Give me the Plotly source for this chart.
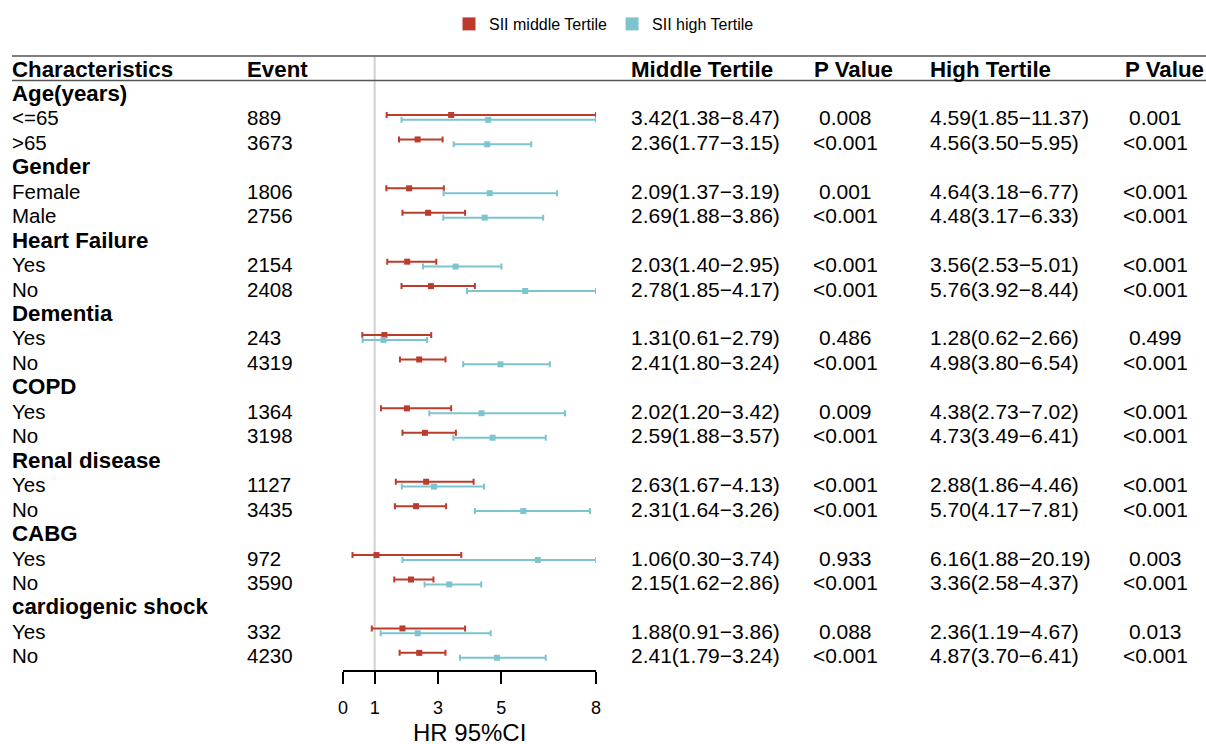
import plotly.graph_objects as go

# ---------------- data ----------------
groups = ["Age(years)", "Gender", "Heart Failure", "Dementia", "COPD",
          "Renal disease", "CABG", "cardiogenic shock"]
sub_labels = [["<=65", ">65"], ["Female", "Male"], ["Yes", "No"], ["Yes", "No"],
              ["Yes", "No"], ["Yes", "No"], ["Yes", "No"], ["Yes", "No"]]
events = [889, 3673, 1806, 2756, 2154, 2408, 243, 4319, 1364, 3198,
          1127, 3435, 972, 3590, 332, 4230]

mid_hr = [3.42, 2.36, 2.09, 2.69, 2.03, 2.78, 1.31, 2.41, 2.02, 2.59, 2.63, 2.31, 1.06, 2.15, 1.88, 2.41]
mid_lo = [1.38, 1.77, 1.37, 1.88, 1.40, 1.85, 0.61, 1.80, 1.20, 1.88, 1.67, 1.64, 0.30, 1.62, 0.91, 1.79]
mid_hi = [8.47, 3.15, 3.19, 3.86, 2.95, 4.17, 2.79, 3.24, 3.42, 3.57, 4.13, 3.26, 3.74, 2.86, 3.86, 3.24]
mid_p = ["0.008", "<0.001", "0.001", "<0.001", "<0.001", "<0.001", "0.486", "<0.001",
         "0.009", "<0.001", "<0.001", "<0.001", "0.933", "<0.001", "0.088", "<0.001"]

high_hr = [4.59, 4.56, 4.64, 4.48, 3.56, 5.76, 1.28, 4.98, 4.38, 4.73, 2.88, 5.70, 6.16, 3.36, 2.36, 4.87]
high_lo = [1.85, 3.50, 3.18, 3.17, 2.53, 3.92, 0.62, 3.80, 2.73, 3.49, 1.86, 4.17, 1.88, 2.58, 1.19, 3.70]
high_hi = [11.37, 5.95, 6.77, 6.33, 5.01, 8.44, 2.66, 6.54, 7.02, 6.41, 4.46, 7.81, 20.19, 4.37, 4.67, 6.41]
high_p = ["0.001", "<0.001", "<0.001", "<0.001", "<0.001", "<0.001", "0.499", "<0.001",
          "<0.001", "<0.001", "<0.001", "<0.001", "0.003", "<0.001", "0.013", "<0.001"]

headers = ["Characteristics", "Event", "Middle Tertile", "P Value", "High Tertile", "P Value"]
x_ticks = [0, 1, 3, 5, 8]
x_max = 8
x_title = "HR 95%CI"

RED = "#BD3B2D"
TEAL = "#7CC4CE"
FONT = "Liberation Sans, Arial, sans-serif"

W, H = 1206, 744
ROW0, ROWH = 69.0, 24.45       # pixel centre of header row, row pitch
AXIS_Y = 670.0
X0_PX, X8_PX = 343.0, 596.0


def prow(py):
    return (py - ROW0) / ROWH


# row indices
group_rows, item_rows = [], []
r = 1
for g, subs in zip(groups, sub_labels):
    group_rows.append(r)
    r += 1
    for s in subs:
        item_rows.append(r)
        r += 1

labels_flat = [s for subs in sub_labels for s in subs]

fig = go.Figure()

def fmt(hr, lo, hi):
    return f"{hr:.2f}({lo:.2f}\u2212{hi:.2f})"

# forest traces
for hr, lo, hi, col, off in [(mid_hr, mid_lo, mid_hi, RED, -0.12),
                             (high_hr, high_lo, high_hi, TEAL, 0.08)]:
    up = [min(h, x_max) - v for v, h in zip(hr, hi)]
    dn = [v - l for v, l in zip(hr, lo)]
    fig.add_trace(go.Scatter(
        x=hr, y=[rr + off for rr in item_rows], mode="markers",
        marker=dict(symbol="square", size=6, color=col),
        error_x=dict(type="data", symmetric=False, array=up, arrayminus=dn,
                     color=col, thickness=2, width=3),
        showlegend=False, cliponaxis=False, hoverinfo="skip"))

# legend entries
for name, col in [("SII middle Tertile", RED), ("SII high Tertile", TEAL)]:
    fig.add_trace(go.Scatter(x=[None], y=[None], mode="markers", name=name,
                             marker=dict(symbol="square", size=13, color=col)))

ann = []
def add_text(px, row, text, bold=False, anchor="left", size=20.5):
    ann.append(dict(x=px / W, xref="paper", y=row, yref="y", text=f"<b>{text}</b>" if bold else text,
                    showarrow=False, xanchor=anchor, yanchor="middle", borderpad=0,
                    font=dict(family=FONT, size=size, color="black")))

hdr_x = [11, 246, 630, 813, 929, 1124]
for hx, htxt in zip(hdr_x, headers):
    add_text(hx, 0, htxt, bold=True, size=22.3)

for g, gr in zip(groups, group_rows):
    add_text(11, gr, g, bold=True, size=22.3)

for i, rr in enumerate(item_rows):
    add_text(11, rr, labels_flat[i])
    add_text(246, rr, str(events[i]))
    add_text(630, rr, fmt(mid_hr[i], mid_lo[i], mid_hi[i]), size=21)
    add_text(845, rr, mid_p[i], anchor="center", size=21)
    add_text(929, rr, fmt(high_hr[i], high_lo[i], high_hi[i]), size=21)
    add_text(1155.5, rr, high_p[i], anchor="center", size=21)

# x-axis title, centred under the axis
ann.append(dict(x=(X0_PX + X8_PX) / 2 / W, xref="paper", y=(H - 732) / H, yref="paper",
                text=x_title, showarrow=False, xanchor="center", yanchor="middle", borderpad=0,
                font=dict(family=FONT, size=24, color="black")))

shapes = [
    dict(type="line", xref="paper", yref="y", x0=12 / W, x1=1.0, y0=prow(56), y1=prow(56),
         line=dict(color="#555555", width=1.6)),
    dict(type="line", xref="paper", yref="y", x0=12 / W, x1=1.0, y0=prow(80.5), y1=prow(80.5),
         line=dict(color="#555555", width=1.6)),
    dict(type="line", xref="x", yref="y", x0=1, x1=1, y0=prow(56), y1=prow(AXIS_Y),
         line=dict(color="#D0D0D0", width=2), layer="below"),
]

fig.update_layout(
    width=W, height=H, margin=dict(l=0, r=0, t=0, b=0, autoexpand=False),
    paper_bgcolor="white", plot_bgcolor="white",
    font=dict(family=FONT, color="black"),
    annotations=ann, shapes=shapes,
    showlegend=True,
    legend=dict(orientation="h", x=449 / W, xanchor="left", y=1 - 24 / H, yanchor="middle",
                font=dict(family=FONT, size=16, color="black"), bgcolor="rgba(0,0,0,0)",
                itemclick=False),
    xaxis=dict(domain=[X0_PX / W, X8_PX / W], range=[0, x_max], tickvals=x_ticks,
               ticks="outside", ticklen=12, tickwidth=2, tickcolor="black",
               showline=True, linewidth=2, linecolor="black", showgrid=False, zeroline=False,
               tickfont=dict(family=FONT, size=18, color="black"), ticklabelstandoff=8,
               automargin=False, anchor="y", fixedrange=True),
    yaxis=dict(domain=[(H - AXIS_Y) / H, 1], range=[prow(AXIS_Y), prow(0)], visible=False,
               automargin=False, fixedrange=True),
)

fig.write_html("out.html", config={"displayModeBar": False},
               post_script="document.body.style.margin='0px';document.body.style.overflow='hidden';")
